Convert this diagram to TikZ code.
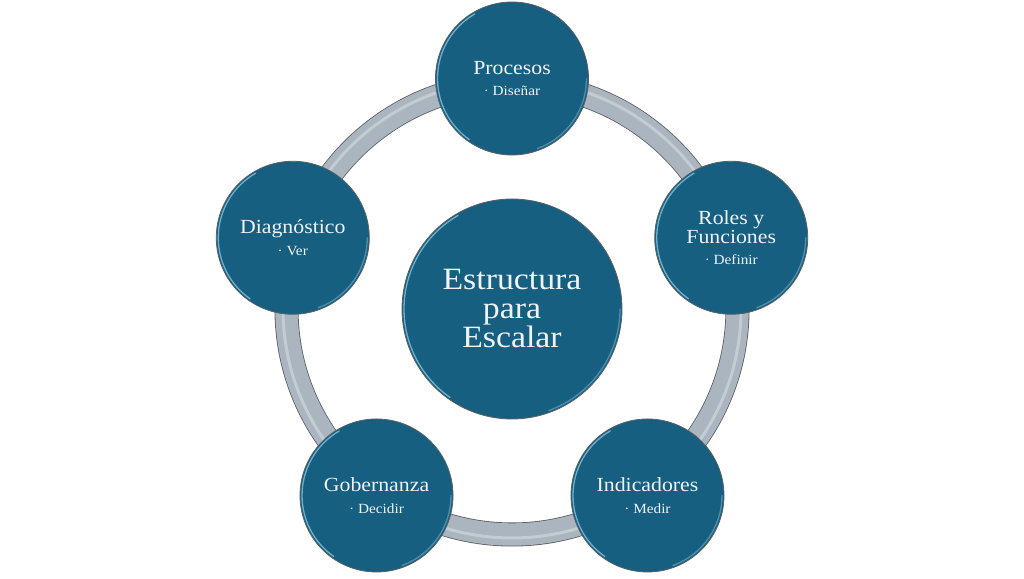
\documentclass[tikz,border=0pt]{standalone}
\usepackage{fontspec}
\setmainfont[FakeStretch=1.09]{Liberation Serif}
\usetikzlibrary{calc}
\definecolor{cblue}{HTML}{175F80}
\definecolor{ctext}{HTML}{EEF3F6}
\definecolor{ringfill}{HTML}{AAB5C0}
\definecolor{ringedge}{HTML}{5A5F63}
\definecolor{hlcol}{HTML}{7DBFDC}
\tikzset{
  bubble/.style={circle, fill=cblue, draw=ringedge, line width=0.8pt,
    minimum size=153pt, inner sep=0pt, text=ctext, align=center,
    font=\fontsize{20}{18.5}\selectfont},
  hub/.style={bubble, minimum size=220pt, font=\fontsize{31}{29}\selectfont},
  hl/.style={draw=hlcol, line width=1.3pt, line cap=round, opacity=0.85}
}
\newcommand{\bul}[1]{\\[3pt]{\fontsize{14}{16}\selectfont\textperiodcentered\ #1}}
\begin{document}
\begin{tikzpicture}[x=1pt,y=1pt]
\useasboundingbox (0,0) rectangle (1024,578);
\fill[white] (0,0) rectangle (1024,578);
\coordinate (C) at (512,269);
% ring
\draw[ringedge, line width=24pt] (C) circle[radius=225.5];
\draw[ringfill, line width=22.4pt] (C) circle[radius=225.5];
\draw[white, opacity=0.3, line width=3pt] (C) circle[radius=229];
% nodes
\node[hub] (hub) at (C) {Estructura\\para\\Escalar};
\node[bubble] (p) at ($(C)+(90:230.5)$) {Procesos\bul{Diseñar}};
\node[bubble] (r) at ($(C)+(18:230.5)$) {Roles y\\Funciones\bul{Definir}};
\node[bubble] (i) at ($(C)+(-54:230.5)$) {Indicadores\bul{Medir}};
\node[bubble] (g) at ($(C)+(-126:230.5)$) {Gobernanza\bul{Decidir}};
\node[bubble] (d) at ($(C)+(162:230.5)$) {Diagnóstico\bul{Ver}};
% bevel highlights
\foreach \n/\r in {p/74.5, r/74.5, i/74.5, g/74.5, d/74.5, hub/108}{
  \draw[hl] ($(\n.center)+(120:\r)$) arc[start angle=120, end angle=235, radius=\r];
  \draw[hl, opacity=0.5] ($(\n.center)+(-70:\r)$) arc[start angle=-70, end angle=0, radius=\r];
}
\end{tikzpicture}
\end{document}
